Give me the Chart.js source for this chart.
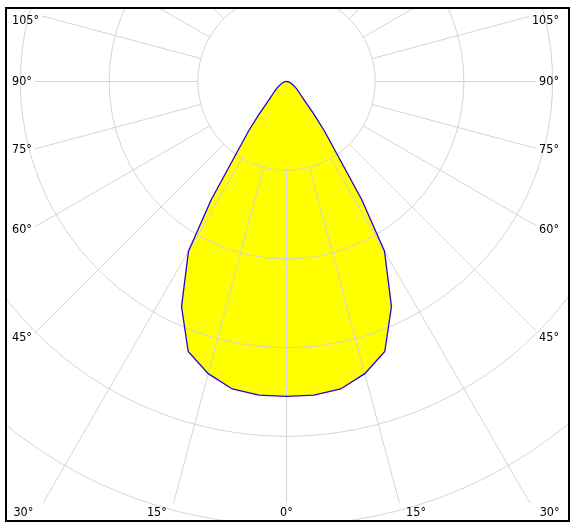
<!DOCTYPE html>
<html>
<head>
<meta charset="utf-8">
<script src="https://cdn.jsdelivr.net/npm/chart.js@4.4.1/dist/chart.umd.min.js"></script>
<style>
  html, body { margin: 0; padding: 0; background: #fff; }
  #wrap { width: 576px; height: 531px; }
</style>
</head>
<body>
<div id="wrap"><canvas id="polar" width="576" height="531"></canvas></div>
<script>
// gamma angle from nadir (deg) and intensity
const gammaAngles   = [0, 5, 10, 15, 20, 25, 30, 32.5, 35, 37.5, 40, 42.5, 45, 50, 55, 60, 65, 70, 75, 80, 85, 90];
const intensityC0   = [355, 355, 352, 341, 324, 280, 221, 158, 97, 70, 48, 33, 25, 18, 13.5, 9.5, 7, 5, 3.5, 2.5, 1.2, 0];
const intensityC180 = [355, 355, 352, 341, 324, 280, 221, 158, 97, 70, 48, 33, 25, 18, 13.5, 9.5, 7, 5, 3.5, 2.5, 1.2, 0];

const ringValues  = [100, 200, 300, 400, 500];
const spokeAngles = [0, 15, 30, 45, 60, 75, 90, 105, 120, 135, 150, 165, 180];
const labelAngles = [0, 15, 30, 45, 60, 75, 90, 105];

// layout: where the lamp sits on the canvas and how many px one unit is
const W = 576, H = 531;
const CX = 286.5, CY = 81.5, PX = 0.887;
const PAD = { left: 6, top: 8, right: 7, bottom: 10 };
const GRID = '#d4d4d4';
const FONT = '12.5px "DejaVu Sans Condensed", "DejaVu Sans", sans-serif';

const rad = d => d * Math.PI / 180;

// closed outline: C0 half on the right going down, C180 half on the left going back up
const outline = [];
for (let i = gammaAngles.length - 1; i >= 0; i--) {
  const a = rad(gammaAngles[i]);
  outline.push({ x: intensityC0[i] * Math.sin(a), y: -intensityC0[i] * Math.cos(a) });
}
for (let i = 1; i < gammaAngles.length; i++) {
  const a = rad(gammaAngles[i]);
  outline.push({ x: -intensityC180[i] * Math.sin(a), y: -intensityC180[i] * Math.cos(a) });
}

// where the tick label for a spoke goes (null = no label)
function placeLabel(ctx, ca, cx, cy, a, s) {
  if (!labelAngles.includes(a)) return null;
  const text = a + '\u00b0';
  const w = ctx.measureText(text).width;
  const sn = Math.sin(rad(a)), cs = Math.cos(rad(a));
  const bottomY = ca.bottom - 8;
  if (sn > 0.001) {
    const ySide = cy + (256 / sn) * cs;
    if (ySide < bottomY) {
      const lx = s < 0 ? ca.left + 6 : ca.right - 10;
      const edge = s < 0 ? lx + w + 3 : lx - w - 3;
      return { text, x: lx, y: Math.max(ySide, ca.top + 13), align: s < 0 ? 'left' : 'right', lineR: Math.abs(edge - cx) / sn };
    }
  }
  const t = (bottomY - cy) / cs;
  const xr = cx + s * t * sn;
  return {
    text,
    x: a === 0 ? cx : xr + s * 4,
    y: bottomY,
    align: a === 0 ? 'center' : (s < 0 ? 'right' : 'left'),
    lineR: (bottomY - 10 - cy) / cs
  };
}

const polarGrid = {
  id: 'polarGrid',
  afterDatasetDraw(chart, args) {
    if (args.index !== 1) return; // after the yellow fill, before the outline
    const { ctx, chartArea: ca, scales: { x, y } } = chart;
    const cx = x.getPixelForValue(0), cy = y.getPixelForValue(0);
    const k = x.getPixelForValue(1) - cx;
    ctx.save();
    ctx.beginPath();
    ctx.rect(ca.left, ca.top, ca.right - ca.left, ca.bottom - ca.top);
    ctx.clip();
    ctx.strokeStyle = GRID;
    ctx.lineWidth = 1;
    ringValues.forEach(v => {
      ctx.beginPath();
      ctx.arc(cx, cy, v * k, 0, Math.PI * 2);
      ctx.stroke();
    });
    ctx.font = FONT;
    spokeAngles.forEach(a => {
      [-1, 1].forEach(s => {
        if ((a === 0 || a === 180) && s === 1) return;
        const dx = s * Math.sin(rad(a)), dy = Math.cos(rad(a));
        const lab = placeLabel(ctx, ca, cx, cy, a, s);
        const r0 = ringValues[0] * k;
        const r1 = lab ? lab.lineR : 2000;
        ctx.beginPath();
        ctx.moveTo(cx + dx * r0, cy + dy * r0);
        ctx.lineTo(cx + dx * r1, cy + dy * r1);
        ctx.stroke();
      });
    });
    ctx.restore();
  },
  afterDraw(chart) {
    const { ctx, chartArea: ca, scales: { x, y } } = chart;
    const cx = x.getPixelForValue(0), cy = y.getPixelForValue(0);
    ctx.save();
    ctx.strokeStyle = '#000';
    ctx.lineWidth = 2;
    ctx.strokeRect(ca.left, ca.top, ca.right - ca.left, ca.bottom - ca.top);
    ctx.font = FONT;
    ctx.fillStyle = '#000';
    ctx.textBaseline = 'middle';
    labelAngles.forEach(a => {
      [-1, 1].forEach(s => {
        if (a === 0 && s === 1) return;
        const lab = placeLabel(ctx, ca, cx, cy, a, s);
        ctx.textAlign = lab.align;
        ctx.fillText(lab.text, lab.x, lab.y);
      });
    });
    ctx.restore();
  }
};

new Chart(document.getElementById('polar'), {
  type: 'line',
  data: {
    datasets: [
      {
        label: 'outline',
        data: outline,
        borderColor: '#2a00d8',
        borderWidth: 1.3,
        pointRadius: 0,
        tension: 0,
        fill: false
      },
      {
        label: 'fill',
        data: outline,
        borderWidth: 0,
        borderColor: 'rgba(0,0,0,0)',
        backgroundColor: '#ffff00',
        pointRadius: 0,
        tension: 0,
        fill: 'shape'
      }
    ]
  },
  options: {
    responsive: false,
    animation: false,
    devicePixelRatio: 1,
    events: [],
    layout: { padding: PAD },
    plugins: {
      legend: { display: false },
      tooltip: { enabled: false }
    },
    scales: {
      x: {
        type: 'linear',
        display: false,
        bounds: 'data',
        min: (PAD.left - CX) / PX,
        max: (W - PAD.right - CX) / PX
      },
      y: {
        type: 'linear',
        display: false,
        bounds: 'data',
        min: (CY - (H - PAD.bottom)) / PX,
        max: (CY - PAD.top) / PX
      }
    }
  },
  plugins: [polarGrid]
});
</script>
</body>
</html>
